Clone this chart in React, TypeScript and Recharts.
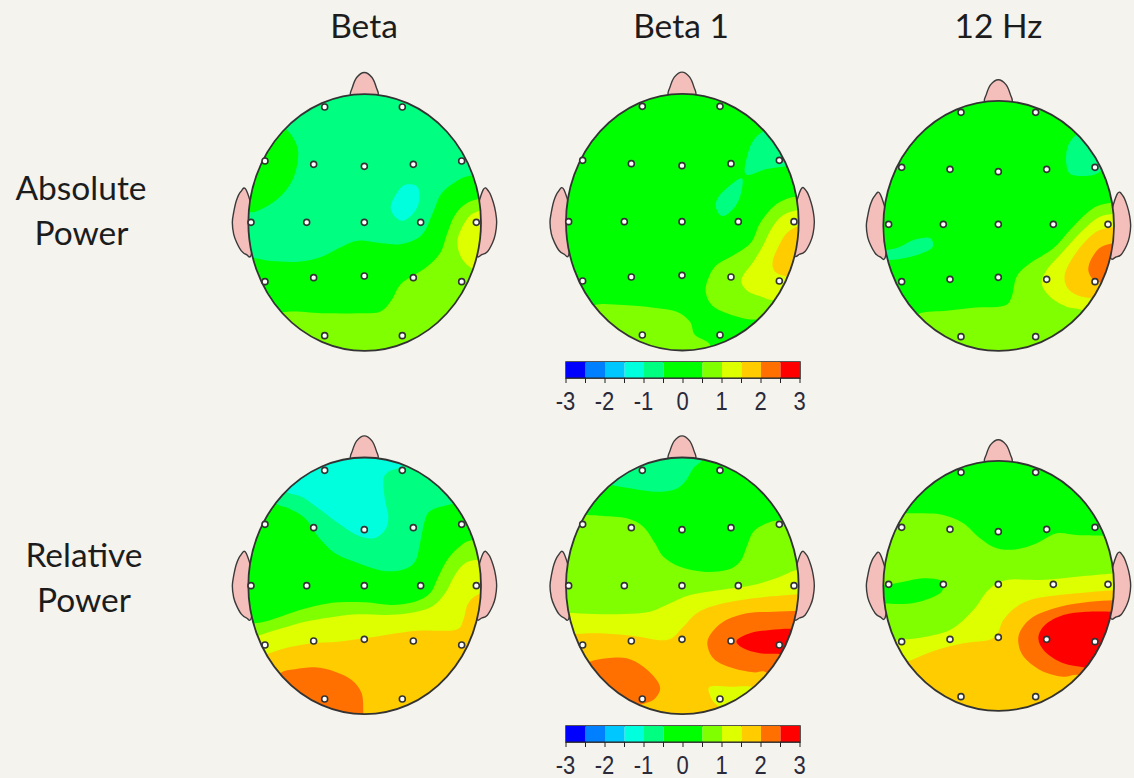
import React from 'react';
import { ScatterChart, Scatter, XAxis, YAxis, BarChart, Bar, ReferenceArea } from 'recharts';

type Pt = [number, number];
type Region = { level: string; outline: Pt[] };

const PALETTE: Record<string, string> = {
  blue: '#0000ff', azure: '#0080ff', sky: '#00c8ff', cyan: '#00ffdd', mint: '#00ff80', green: '#00ff00',
  lime: '#80ff00', chartreuse: '#ddff00', amber: '#ffcc00', orange: '#ff7000', red: '#ff0000',
};

const BETA_ABS: Region[] = [
  { level: 'green', outline: [[180,190],[215,240],[218,290],[200,350],[160,400],[110,432],[70,440],[30,400],[50,250],[120,170]] },
  { level: 'green', outline: [[80,580],[140,588],[220,590],[290,575],[350,545],[400,527],[470,535],[530,537],[590,510],[625,440],[650,385],[700,345],[745,330],[800,330],[850,600],[800,900],[100,900],[30,600]] },
  { level: 'lime', outline: [[790,398],[730,412],[690,450],[665,510],[645,565],[600,610],[530,655],[500,705],[465,740],[400,745],[300,745],[175,742],[120,790],[300,900],[600,900],[850,700],[850,400]] },
  { level: 'chartreuse', outline: [[790,445],[745,445],[715,480],[697,530],[710,580],[745,612],[800,620],[830,530]] },
  { level: 'cyan', outline: [[560,358],[580,370],[582,410],[565,445],[535,467],[510,455],[497,425],[515,385],[535,362]] },
];
const BETA1_ABS: Region[] = [
  { level: 'mint', outline: [[670,198],[645,220],[625,260],[617,328],[680,312],[750,303],[800,300],[760,200],[700,170]] },
  { level: 'mint', outline: [[605,340],[603,385],[585,425],[550,453],[530,435],[530,405],[560,370]] },
  { level: 'lime', outline: [[165,720],[250,720],[340,728],[410,740],[450,770],[465,810],[510,840],[500,900],[300,900],[130,760]] },
  { level: 'lime', outline: [[790,393],[745,400],[700,425],[660,475],[635,530],[590,565],[530,600],[505,640],[497,680],[515,720],[560,745],[620,762],[665,765],[720,780],[850,600],[850,393]] },
  { level: 'chartreuse', outline: [[790,432],[730,450],[695,490],[670,540],[640,590],[610,630],[605,655],[625,680],[665,695],[695,705],[750,700],[850,600],[850,432]] },
  { level: 'amber', outline: [[790,488],[745,500],[715,545],[698,590],[705,620],[738,634],[790,640],[830,560]] },
];
const HZ12_ABS: Region[] = [
  { level: 'mint', outline: [[650,192],[625,225],[618,265],[625,305],[650,317],[700,315],[730,300],[780,290],[730,200],[680,170]] },
  { level: 'mint', outline: [[82,540],[120,530],[160,510],[205,503],[218,515],[215,535],[180,552],[130,565],[88,570],[50,565],[50,540]] },
  { level: 'lime', outline: [[780,397],[720,405],[680,430],[630,480],[580,535],[510,580],[470,620],[455,680],[430,708],[340,713],[260,722],[180,730],[130,770],[300,900],[600,900],[850,700],[850,397]] },
  { level: 'chartreuse', outline: [[780,430],[720,440],[680,470],[640,510],[600,555],[560,600],[545,640],[570,680],[620,710],[665,720],[720,760],[850,600],[850,430]] },
  { level: 'amber', outline: [[780,470],[720,480],[680,510],[640,560],[615,610],[620,650],[650,675],[695,685],[760,690],[850,600],[850,470]] },
  { level: 'orange', outline: [[780,522],[725,530],[695,565],[685,600],[700,630],[725,638],[770,640],[810,570]] },
];
const BETA_REL: Region[] = [
  { level: 'mint', outline: [[155,222],[190,235],[240,265],[280,320],[330,370],[400,400],[470,422],[530,420],[570,395],[585,340],[600,270],[620,240],[680,222],[760,200],[600,40],[300,40],[100,180]] },
  { level: 'cyan', outline: [[180,185],[230,200],[280,235],[340,280],[395,315],[445,325],[480,300],[490,260],[480,210],[475,150],[490,125],[530,105],[500,50],[300,50],[130,150]] },
  { level: 'lime', outline: [[85,580],[130,572],[200,548],[270,528],[340,517],[420,517],[500,525],[570,515],[615,490],[640,440],[670,385],[710,345],[745,330],[850,320],[850,700],[300,900],[0,700],[40,585]] },
  { level: 'chartreuse', outline: [[100,617],[170,595],[240,575],[330,560],[400,553],[480,555],[550,550],[620,530],[660,490],[690,435],[720,400],[765,388],[850,380],[850,700],[300,900],[0,700],[60,630]] },
  { level: 'amber', outline: [[125,672],[180,655],[260,640],[340,635],[420,625],[500,612],[580,602],[690,600],[715,570],[730,520],[768,490],[850,480],[850,700],[420,950],[0,800],[70,680]] },
  { level: 'orange', outline: [[165,730],[210,718],[270,712],[330,725],[380,750],[410,790],[415,850],[415,900],[300,900],[120,780]] },
];
const BETA1_REL: Region[] = [
  { level: 'mint', outline: [[215,165],[270,175],[340,185],[400,180],[435,155],[460,115],[490,85],[490,40],[300,40],[170,150]] },
  { level: 'lime', outline: [[135,255],[190,258],[260,265],[310,290],[345,340],[370,380],[420,410],[490,425],[560,420],[600,395],[620,350],[640,305],[680,280],[725,270],[850,260],[850,900],[0,900],[0,255]] },
  { level: 'chartreuse', outline: [[80,548],[160,552],[250,552],[330,545],[390,520],[450,495],[540,480],[640,465],[720,440],[776,418],[850,410],[850,900],[0,900],[0,548]] },
  { level: 'amber', outline: [[105,612],[180,610],[280,618],[380,630],[430,590],[470,550],[530,525],[640,505],[776,493],[850,490],[850,900],[0,900],[0,620]] },
  { level: 'orange', outline: [[790,543],[700,545],[620,550],[550,575],[510,615],[503,650],[525,690],[580,715],[640,727],[675,725],[720,750],[850,700],[850,543]] },
  { level: 'red', outline: [[770,598],[690,600],[630,610],[590,632],[610,655],[660,670],[720,672],[770,680],[800,620]] },
  { level: 'orange', outline: [[150,695],[200,685],[260,685],[310,710],[350,750],[360,780],[340,810],[300,825],[250,850],[100,720]] },
  { level: 'chartreuse', outline: [[510,770],[570,770],[640,772],[640,810],[560,835],[525,820],[510,795]] },
];
const HZ12_REL: Region[] = [
  { level: 'lime', outline: [[135,250],[190,250],[250,255],[310,280],[360,325],[410,355],[470,358],[530,340],[590,310],[650,315],[730,317],[850,320],[850,900],[0,900],[0,250]] },
  { level: 'green', outline: [[72,465],[130,455],[190,445],[240,450],[252,463],[240,490],[190,512],[130,522],[72,520],[40,520],[40,465]] },
  { level: 'chartreuse', outline: [[110,630],[170,625],[270,600],[340,540],[385,480],[440,450],[540,450],[650,440],[770,430],[850,430],[850,900],[0,900],[0,680],[100,650]] },
  { level: 'amber', outline: [[155,690],[230,660],[310,640],[400,625],[430,570],[470,530],[530,505],[650,490],[770,480],[850,480],[850,900],[0,900],[100,720]] },
  { level: 'orange', outline: [[780,510],[690,515],[600,530],[520,560],[480,605],[477,650],[500,690],[550,725],[610,740],[655,735],[720,760],[850,700],[850,510]] },
  { level: 'red', outline: [[770,545],[680,545],[610,555],[555,585],[535,625],[555,665],[610,700],[670,712],[720,720],[800,650],[800,545]] },
];

const ELECTRODES_TALL: Pt[] = [
  [-120,-346],[113,-346],[-299,-184],[-153,-174],[-1,-168],[146,-174],[291,-184],
  [-341,0],[-174,0],[-1,0],[168,0],[335,0],
  [-299,178],[-153,166],[-1,161],[146,166],[291,178],[-120,340],[113,340],
];
const ELECTRODES_ROUND: Pt[] = [
  [-112,-336],[112,-336],[-290,-171],[-145,-165],[0,-158],[145,-165],[290,-171],
  [-329,0],[-165,0],[0,0],[165,0],[329,0],
  [-290,172],[-145,165],[0,159],[145,165],[290,172],[-112,337],[112,337],
];
const NOSE: Pt[] = [[-41,-380],[-37,-405],[-24,-435],[-1,-450],[22,-435],[35,-405],[39,-380],[0,-365]];
const EAR_LEFT: Pt[] = [[-355,-97],[-372,-92],[-385,-65],[-393,-30],[-397,0],[-393,35],[-384,60],[-370,85],[-355,96],[-340,96],[-330,0]];
const EAR_RIGHT: Pt[] = [[355,-97],[373,-92],[386,-60],[393,-30],[396,0],[392,35],[384,60],[368,88],[352,96],[335,96],[330,0]];

const HEADS = [
  { title: 'Beta abs', left: 225, top: 65, w: 840, h: 885, cx: 419, cy: 472.5, rx: 349, ry: 385, ex: 419, ey: 472, base: 'mint', electrodes: ELECTRODES_TALL, regions: BETA_ABS },
  { title: 'Beta1 abs', left: 540, top: 65, w: 840, h: 885, cx: 427, cy: 471.5, rx: 349, ry: 385, ex: 427, ey: 470, base: 'green', electrodes: ELECTRODES_TALL, regions: BETA1_ABS },
  { title: '12Hz abs', left: 860, top: 70, w: 822, h: 870, cx: 416, cy: 467.5, rx: 346, ry: 375, ex: 415, ey: 463, base: 'green', electrodes: ELECTRODES_ROUND, regions: HZ12_ABS },
  { title: 'Beta rel', left: 225, top: 430, w: 840, h: 885, cx: 419, cy: 467.5, rx: 349, ry: 385, ex: 419, ey: 467, base: 'green', electrodes: ELECTRODES_TALL, regions: BETA_REL },
  { title: 'Beta1 rel', left: 540, top: 430, w: 840, h: 885, cx: 427, cy: 467.5, rx: 349, ry: 385, ex: 427, ey: 467, base: 'green', electrodes: ELECTRODES_TALL, regions: BETA1_REL },
  { title: '12Hz rel', left: 860, top: 430, w: 822, h: 870, cx: 416, cy: 467.5, rx: 346, ry: 375, ex: 415, ey: 463, base: 'green', electrodes: ELECTRODES_ROUND, regions: HZ12_REL },
];

const SCALE_BANDS = [
  { key: 'n1', value: -0.5, level: 'green' }, { key: 'n2', value: -0.5, level: 'mint' },
  { key: 'n3', value: -0.5, level: 'cyan' }, { key: 'n4', value: -0.5, level: 'sky' },
  { key: 'n5', value: -0.5, level: 'azure' }, { key: 'n6', value: -0.5, level: 'blue' },
  { key: 'p1', value: 0.5, level: 'green' }, { key: 'p2', value: 0.5, level: 'lime' },
  { key: 'p3', value: 0.5, level: 'chartreuse' }, { key: 'p4', value: 0.5, level: 'amber' },
  { key: 'p5', value: 0.5, level: 'orange' }, { key: 'p6', value: 0.5, level: 'red' },
];
const SCALE_TICKS = [-3, -2.5, -2, -1.5, -1, -0.5, 0, 0.5, 1, 1.5, 2, 2.5, 3];

const COLUMN_TITLES = [
  { text: 'Beta', x: 364, y: 25 }, { text: 'Beta 1', x: 681, y: 25 }, { text: '12 Hz', x: 998.5, y: 25 },
];
const ROW_TITLES = [
  { text: 'Absolute', x: 81, y: 187 }, { text: 'Power', x: 81.5, y: 232 },
  { text: 'Relative', x: 84, y: 554 }, { text: 'Power', x: 84, y: 599 },
];

const toData = (pts: Pt[]) => pts.map(([x, y]) => ({ x, y }));

function smoothClosed(points: { x: number; y: number }[]) {
  const n = points.length;
  const at = (i: number) => points[(i + n) % n];
  let d = `M${at(0).x},${at(0).y}`;
  for (let i = 0; i < n; i++) {
    const p0 = at(i - 1), p1 = at(i), p2 = at(i + 1), p3 = at(i + 2);
    d += `C${p1.x + (p2.x - p0.x) / 6},${p1.y + (p2.y - p0.y) / 6} ${p2.x - (p3.x - p1.x) / 6},${p2.y - (p3.y - p1.y) / 6} ${p2.x},${p2.y}`;
  }
  return d + 'Z';
}

const noMark = () => <g />;
const electrodeMark = (p: any) => <circle cx={p.cx} cy={p.cy} r={3} fill="#fff" stroke="#333" strokeWidth={1.6} />;

function ellipseOf(points: { x: number; y: number }[]) {
  const xs = points.map((q) => q.x), ys = points.map((q) => q.y);
  const x0 = Math.min(...xs), x1 = Math.max(...xs), y0 = Math.min(...ys), y1 = Math.max(...ys);
  return { cx: (x0 + x1) / 2, cy: (y0 + y1) / 2, rx: (x1 - x0) / 2, ry: (y1 - y0) / 2 };
}

function Head({ head, index }: { head: (typeof HEADS)[number]; index: number }) {
  const clipId = `scalp-${index}`;
  const extremes = toData([[head.cx - head.rx, head.cy], [head.cx, head.cy - head.ry], [head.cx + head.rx, head.cy], [head.cx, head.cy + head.ry]]);
  const yScale = head.ry / 385;
  const place = (pts: Pt[]) => toData(pts.map(([x, y]) => [head.cx + x, head.cy + y * yScale] as Pt));
  const feature = (pts: Pt[], name: string) => (
    <Scatter
      key={name} data={place(pts)} dataKey="y" isAnimationActive={false} shape={noMark}
      line={(p: any) => <path d={smoothClosed(p.points)} fill="#f4bfbb" stroke="#3a3a3a" strokeWidth={1.4} />}
    />
  );
  return (
    <div style={{ position: 'absolute', left: head.left, top: head.top }}>
      <ScatterChart width={head.w / 3} height={head.h / 3} margin={{ top: 0, right: 0, bottom: 0, left: 0 }}>
        <XAxis type="number" dataKey="x" domain={[0, head.w]} allowDataOverflow hide />
        <YAxis type="number" dataKey="y" domain={[0, head.h]} allowDataOverflow reversed hide />
        {feature(NOSE, 'nose')}
        {feature(EAR_LEFT, 'earL')}
        {feature(EAR_RIGHT, 'earR')}
        <Scatter
          data={extremes} dataKey="y" isAnimationActive={false} shape={noMark}
          line={(p: any) => {
            const e = ellipseOf(p.points);
            return (
              <g>
                <clipPath id={clipId}><ellipse {...e} /></clipPath>
                <ellipse {...e} fill={PALETTE[head.base]} />
              </g>
            );
          }}
        />
        {head.regions.map((r, i) => (
          <Scatter
            key={i} data={toData(r.outline)} dataKey="y" isAnimationActive={false} shape={noMark}
            line={(p: any) => <path d={smoothClosed(p.points)} fill={PALETTE[r.level]} stroke="none" clipPath={`url(#${clipId})`} />}
          />
        ))}
        <Scatter
          data={extremes} dataKey="y" isAnimationActive={false} shape={noMark}
          line={(p: any) => <ellipse {...ellipseOf(p.points)} fill="none" stroke="#333" strokeWidth={1.8} />}
        />
        <Scatter
          data={toData(head.electrodes.map(([x, y]) => [head.ex + x, head.ey + y] as Pt))}
          dataKey="y" isAnimationActive={false} shape={electrodeMark}
        />
      </ScatterChart>
    </div>
  );
}

const scaleTick = (p: any) => {
  const v = p.payload.value as number;
  if (!Number.isInteger(v)) return <g />;
  return (
    <text
      transform={`translate(${p.x - 0.5},${p.y + 25}) scale(1.1,1.25)`}
      textAnchor="middle" fontFamily="Liberation Sans" fontSize={20} fill="#2a2a3a"
    >
      {String(v)}
    </text>
  );
};

function ColourScale({ top }: { top: number }) {
  const row: Record<string, number | string> = { name: 'scale' };
  SCALE_BANDS.forEach((b) => { row[b.key] = b.value; });
  return (
    <div style={{ position: 'absolute', left: 540, top }}>
      <BarChart
        width={290} height={59} layout="vertical" data={[row]} stackOffset="sign" barCategoryGap={0}
        margin={{ top: 7, right: 30, bottom: 0, left: 26 }}
      >
        <XAxis
          type="number" domain={[-3, 3]} ticks={SCALE_TICKS} interval={0} height={36} tickSize={5}
          tick={scaleTick} stroke="#222"
        />
        <YAxis type="category" dataKey="name" hide />
        {SCALE_BANDS.map((b) => (
          <Bar key={b.key} dataKey={b.key} stackId="s" fill={PALETTE[b.level]} isAnimationActive={false} />
        ))}
        <ReferenceArea x1={-3} x2={3} fill="none" stroke="#222" strokeWidth={1.5} ifOverflow="visible" />
      </BarChart>
    </div>
  );
}

const textStyle = (x: number, y: number): React.CSSProperties => ({
  position: 'absolute', left: x - 150, top: y - 25, width: 300, height: 50, lineHeight: '50px', textAlign: 'center',
  fontFamily: 'Lato', fontSize: 33.5, color: '#1c1c1c', whiteSpace: 'nowrap',
});

export default function App() {
  return (
    <div style={{ position: 'absolute', left: 0, top: 0, width: 1134, height: 778, background: '#f4f3ee', overflow: 'hidden' }}>
      {HEADS.map((h, i) => <Head key={h.title} head={h} index={i} />)}
      <ColourScale top={355} />
      <ColourScale top={719} />
      {[...COLUMN_TITLES, ...ROW_TITLES].map((t, i) => (
        <div key={i} style={textStyle(t.x, t.y)}>{t.text}</div>
      ))}
    </div>
  );
}
